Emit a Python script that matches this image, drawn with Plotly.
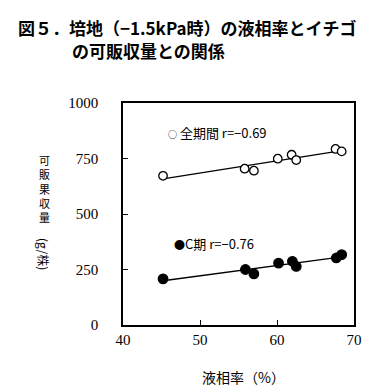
import numpy as np
import plotly.graph_objects as go

# data
liquid_ratio = [45.2, 55.8, 57.0, 60.1, 61.9, 62.5, 67.6, 68.4]
yield_all = [672, 704, 695, 749, 767, 743, 793, 782]
liquid_ratio_c = [45.2, 55.9, 57.0, 60.2, 62.0, 62.5, 67.7, 68.4]
yield_c = [208, 250, 230, 279, 287, 264, 302, 317]
x_ticks = [40, 50, 60, 70]
y_ticks = [0, 250, 500, 750, 1000]

def fit(x, y):
    m, b = np.polyfit(x, y, 1)
    xs = np.array([min(x), max(x)])
    return xs, m * xs + b

fig = go.Figure()
for xs, ys, filled in [(liquid_ratio, yield_all, False), (liquid_ratio_c, yield_c, True)]:
    fx, fy = fit(xs, ys)
    fig.add_trace(go.Scatter(x=fx, y=fy, mode="lines",
                             line=dict(color="black", width=1.3), showlegend=False))
    fig.add_trace(go.Scatter(
        x=xs, y=ys, mode="markers", showlegend=False,
        marker=dict(size=8.5 if not filled else 9.5,
                    color="black" if filled else "white",
                    symbol="circle",
                    line=dict(color="black", width=1.3))))

W, H = 389, 388
L, R, T, B = 115, 43, 95, 71
pw, ph = W - L - R, H - T - B

def px(x):
    return (x - L) / pw

def py(y):
    return (H - B - y) / ph

serif = "'Times New Roman', 'Liberation Serif', 'DejaVu Serif', serif"
cjk = "Noto Sans CJK JP"

ann = []
ann.append(dict(text="<b>図５．培地（−1.5kPa時）の液相率とイチゴ</b>", x=px(8), y=py(20),
                xanchor="left", yanchor="middle", font=dict(family=cjk, size=17, color="black")))
ann.append(dict(text="<b>の可販収量との関係</b>", x=px(62), y=py(42),
                xanchor="left", yanchor="middle", font=dict(family=cjk, size=17, color="black")))
ann.append(dict(text="<span style='font-size:9px'>○</span> 全期間 r=−0.69", x=px(158), y=py(124),
                xanchor="left", yanchor="middle", font=dict(family=cjk, size=13, color="black")))
ann.append(dict(text="<span style='font-size:11px'>●</span>C期 r=−0.76", x=px(164), y=py(235),
                xanchor="left", yanchor="middle", font=dict(family=cjk, size=13, color="black")))
ann.append(dict(text="<br>".join("可販果収量"), x=px(36), y=py(180), xanchor="center", yanchor="middle",
                font=dict(family=cjk, size=11, color="black")))
ann.append(dict(text="(g/株)", x=px(36), y=py(246), xanchor="center", yanchor="middle", textangle=90,
                font=dict(family=cjk, size=12, color="black")))
ann.append(dict(text="液相率（%）", x=px(235), y=py(369), xanchor="center", yanchor="middle",
                font=dict(family=cjk, size=14, color="black")))
for a in ann:
    a.update(xref="paper", yref="paper", showarrow=False)

axis_common = dict(showline=True, linecolor="black", linewidth=1.5, mirror=True,
                   ticks="inside", ticklen=5, tickcolor="black", tickwidth=1.2,
                   showgrid=False, zeroline=False,
                   tickfont=dict(family=serif, size=15, color="black"))

fig.update_layout(
    width=W, height=H, margin=dict(l=L, r=R, t=T, b=B),
    paper_bgcolor="white", plot_bgcolor="white",
    xaxis=dict(range=[40, 70], tickvals=x_ticks, ticktext=[str(v) for v in x_ticks],
               **axis_common),
    yaxis=dict(range=[0, 1000], tickvals=y_ticks, ticktext=[str(v) for v in y_ticks],
               **axis_common),
    annotations=ann,
)
fig.update_xaxes(ticklabelstandoff=0)
fig.update_yaxes(ticklabelstandoff=20)
fig.write_html("out.html")
